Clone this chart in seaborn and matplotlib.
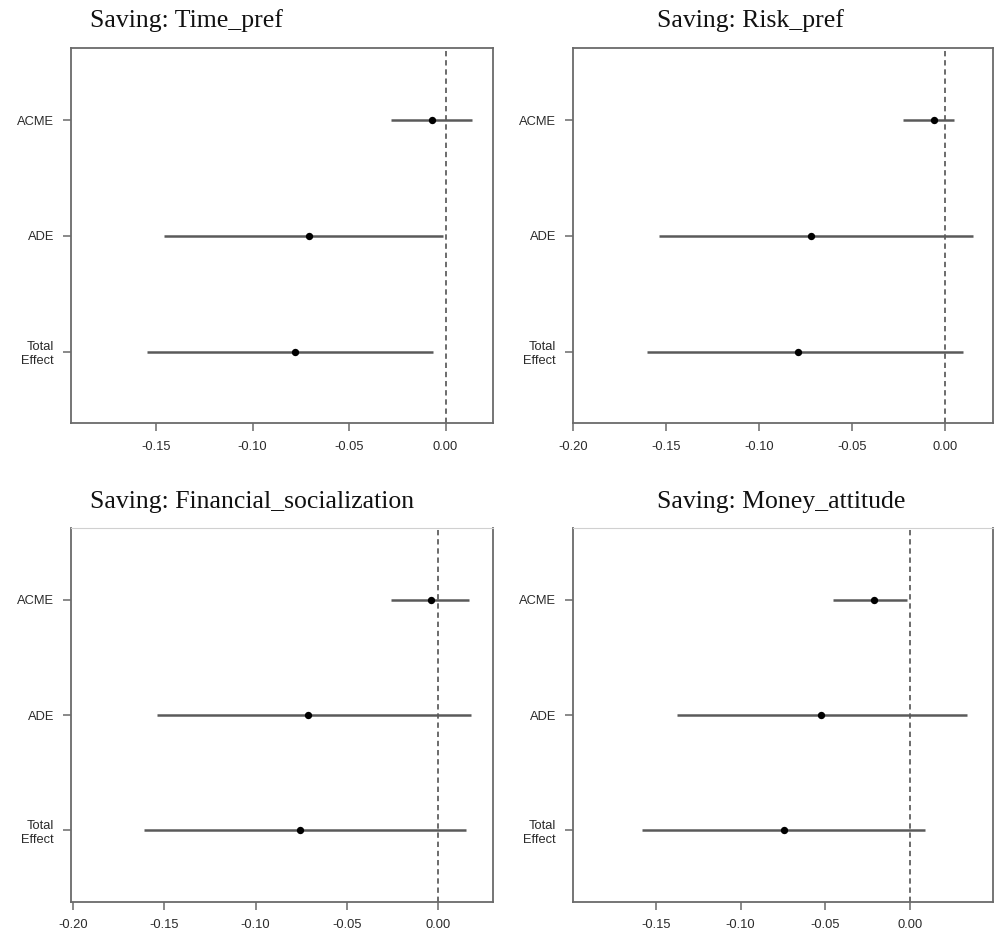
import numpy as np
import pandas as pd
import matplotlib
matplotlib.use("Agg")
import matplotlib.pyplot as plt
import seaborn as sns

# ---- data ----
effects = ["ACME", "ADE", "Total\nEffect"]
titles = ["Saving: Time_pref", "Saving: Risk_pref",
          "Saving: Financial_socialization", "Saving: Money_attitude"]

time_est = [-0.0073, -0.0710, -0.0779]
time_lo = [-0.0285, -0.1460, -0.1550]
time_hi = [0.0135, -0.0016, -0.0066]

risk_est = [-0.0063, -0.0721, -0.0791]
risk_lo = [-0.0225, -0.1538, -0.1603]
risk_hi = [0.0045, 0.0147, 0.0097]

fin_est = [-0.0042, -0.0715, -0.0757]
fin_lo = [-0.0261, -0.1537, -0.1608]
fin_hi = [0.0166, 0.0179, 0.0150]

money_est = [-0.0215, -0.0528, -0.0744]
money_lo = [-0.0453, -0.1374, -0.1585]
money_hi = [-0.0016, 0.0335, 0.0091]

x_limits = [(-0.1943, 0.0244), (-0.2000, 0.0258), (-0.2011, 0.0297), (-0.1992, 0.0492)]
tick_values = [-0.20, -0.15, -0.10, -0.05, 0.00]

panels = [
    (time_est, time_lo, time_hi),
    (risk_est, risk_lo, risk_hi),
    (fin_est, fin_lo, fin_hi),
    (money_est, money_lo, money_hi),
]

sns.set_theme(style="white")
plt.rcParams["font.family"] = ["Liberation Sans", "DejaVu Sans"]

W, H = 1004, 939
fig = plt.figure(figsize=(W / 100, H / 100), dpi=100)

# axes boxes in pixels: (left, top, right, bottom)
boxes = [(70.7, 48.3, 492.7, 423.3), (572.7, 48.3, 993.3, 423.3),
         (70.7, 528.3, 492.7, 901.7), (572.7, 528.3, 993.3, 901.7)]
title_pos = [(90, 26.7), (656.7, 26.7), (90, 508.0), (656.7, 508.0)]

ypos = [3, 2, 1]
spine_col = "#6a6a6a"
text_col = "#2a2a2a"

for i, ((est, lo, hi), box) in enumerate(zip(panels, boxes)):
    l, t, r, b = box
    ax = fig.add_axes([l / W, 1 - b / H, (r - l) / W, (b - t) / H])
    df = pd.DataFrame({"effect": effects, "y": ypos, "est": est, "lo": lo, "hi": hi})
    ax.hlines(df["y"], df["lo"], df["hi"], color="#5a5a5a", lw=1.8, zorder=2)
    sns.scatterplot(data=df, x="est", y="y", ax=ax, color="black", s=28,
                    edgecolor="black", linewidth=0, zorder=3, legend=False)
    ax.axvline(0, color="#444444", lw=1.1, ls=(0, (3.5, 2.5)), zorder=1)
    xmin, xmax = x_limits[i]
    ax.set_xlim(xmin, xmax)
    ax.set_ylim(0.38, 3.62)
    ticks = [v for v in tick_values if xmin - 1e-9 <= v <= xmax]
    ax.set_xticks(ticks)
    ax.set_xticklabels([f"{v:.2f}" if v != 0 else "0.00" for v in ticks])
    ax.set_yticks(ypos)
    ax.set_yticklabels(effects)
    for lab in ax.get_yticklabels():
        lab.set_horizontalalignment("right")
        lab.set_multialignment("right")
    ax.set_xlabel("")
    ax.set_ylabel("")
    ax.tick_params(axis="both", which="major", direction="out", length=6,
                   width=1.1, color=spine_col, labelsize=9.3, labelcolor=text_col,
                   bottom=True, left=True)
    ax.tick_params(axis="x", pad=6.5)
    ax.tick_params(axis="y", pad=6)
    for sp in ax.spines.values():
        sp.set_color(spine_col)
        sp.set_linewidth(1.3)
        sp.set_visible(True)
    if i >= 2:
        ax.spines["top"].set_color("#d0d0d0")
        ax.spines["top"].set_linewidth(0.8)
    tx, ty = title_pos[i]
    fig.text(tx / W, 1 - ty / H, titles[i], ha="left", va="baseline",
             fontsize=18.5, family=["Liberation Serif", "DejaVu Serif"], color="#111111")

fig.savefig("out.png", dpi=100, facecolor="white")
